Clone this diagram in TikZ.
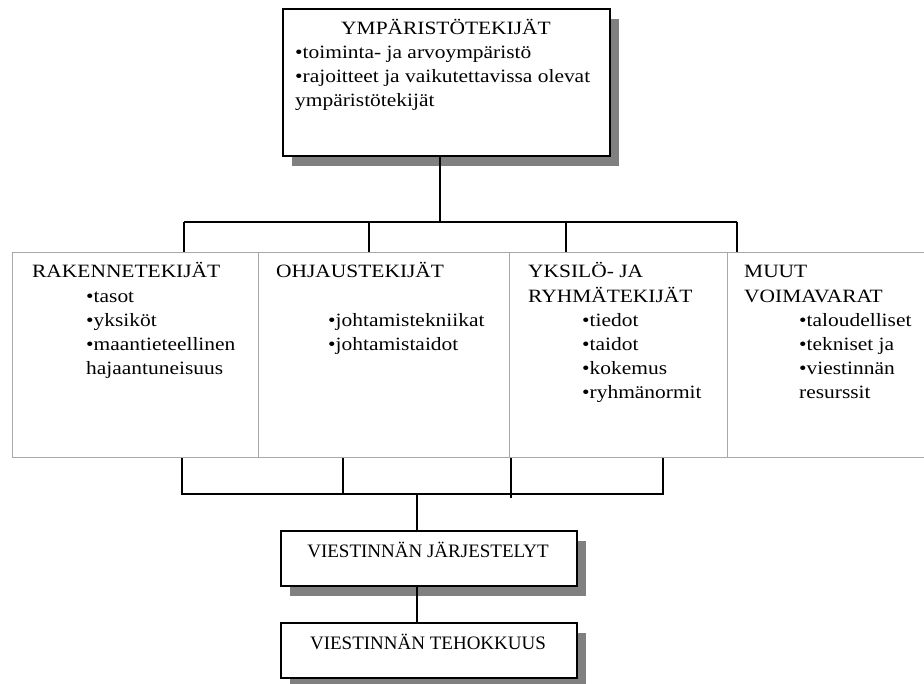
\documentclass[tikz,border=0pt]{standalone}
\usepackage{fontspec}
\setmainfont{Liberation Serif}
\newfontfamily\widefont[FakeStretch=1.14]{Liberation Serif}
\usetikzlibrary{shadows}
\definecolor{cellgray}{HTML}{A8A8A8}
\definecolor{shadowgray}{HTML}{808080}
\tikzset{
  box/.style={draw=black, line width=1.2pt, fill=white, inner sep=0pt,
    drop shadow={shadow xshift=9pt, shadow yshift=-10pt, fill=shadowgray, opacity=1}},
  cell/.style={draw=cellgray, line width=1pt, inner sep=0pt},
  txt/.style={anchor=base west, inner sep=0pt, font=\widefont\fontsize{18.8}{24}\selectfont},
  ctxt/.style={anchor=base, inner sep=0pt, font=\widefont\fontsize{18.8}{24}\selectfont},
  btxt/.style={anchor=base, inner sep=0pt, font=\fontsize{19}{24}\selectfont},
  wire/.style={draw=black, line width=1.3pt}
}
\begin{document}
\begin{tikzpicture}[x=1pt,y=-1pt]
\useasboundingbox (0,0) rectangle (924,684);

% top box: environment factors
\node[box, minimum width=327pt, minimum height=147pt] (env) at (446.5,82.5) {};
\node[ctxt] (envt) at (446,35) {YMPÄRISTÖTEKIJÄT};
\node[txt] (env1) at (295,59) {•toiminta- ja arvoympäristö};
\node[txt] (env2) at (295,83) {•rajoitteet ja vaikutettavissa olevat};
\node[txt] (env3) at (295,107) {ympäristötekijät};

% row of four factor cells (the last one runs past the right edge of the page)
\node[cell, minimum width=246pt, minimum height=205pt] (c1) at (135,355.5) {};
\node[cell, minimum width=251pt, minimum height=205pt] (c2) at (383.5,355.5) {};
\node[cell, minimum width=218pt, minimum height=205pt] (c3) at (618,355.5) {};
\node[cell, minimum width=203pt, minimum height=205pt] (c4) at (828.5,355.5) {};

\node[txt] (c1h) at (32,278) {RAKENNETEKIJÄT};
\node[txt] (c1a) at (86,303) {•tasot};
\node[txt] (c1b) at (86,327) {•yksiköt};
\node[txt] (c1c) at (86,351) {•maantieteellinen};
\node[txt] (c1d) at (86,375) {hajaantuneisuus};

\node[txt] (c2h) at (276,278) {OHJAUSTEKIJÄT};
\node[txt] (c2a) at (328,327) {•johtamistekniikat};
\node[txt] (c2b) at (328,351) {•johtamistaidot};

\node[txt] (c3h) at (528,278) {YKSILÖ- JA};
\node[txt] (c3i) at (528,303) {RYHMÄTEKIJÄT};
\node[txt] (c3a) at (582,327) {•tiedot};
\node[txt] (c3b) at (582,351) {•taidot};
\node[txt] (c3c) at (582,375) {•kokemus};
\node[txt] (c3d) at (582,399) {•ryhmänormit};

\node[txt] (c4h) at (744,278) {MUUT};
\node[txt] (c4i) at (744,303) {VOIMAVARAT};
\node[txt] (c4a) at (799,327) {•taloudelliset};
\node[txt] (c4b) at (799,351) {•tekniset ja};
\node[txt] (c4c) at (799,375) {•viestinnän};
\node[txt] (c4d) at (799,399) {resurssit};

% bottom boxes
\node[box, minimum width=296pt, minimum height=55pt] (arr) at (429,558.5) {};
\node[btxt] (arrt) at (428,557) {VIESTINNÄN JÄRJESTELYT};
\node[box, minimum width=296pt, minimum height=55pt] (eff) at (429,650.5) {};
\node[btxt] (efft) at (428,649) {VIESTINNÄN TEHOKKUUS};

% upper bus
\coordinate (tm) at (440,222);
\coordinate (ta) at (184,222);
\coordinate (tb) at (369,222);
\coordinate (tc) at (566,222);
\coordinate (td) at (737,222);
\draw[wire] (tm |- env.south) -- (tm);
\draw[wire] (ta) -- (td);
\draw[wire] (ta) -- (ta |- c1.north);
\draw[wire] (tb) -- (tb |- c1.north);
\draw[wire] (tc) -- (tc |- c1.north);
\draw[wire] (td) -- (td |- c1.north);

% lower bus
\coordinate (ba) at (182,494);
\coordinate (bb) at (343,494);
\coordinate (bc) at (511,494);
\coordinate (bc2) at (511,498);
\coordinate (bd) at (663,494);
\coordinate (bm) at (417,494);
\draw[wire] (ba |- c1.south) -- (ba) -- (bd) -- (bd |- c1.south);
\draw[wire] (bb |- c1.south) -- (bb);
\draw[wire] (bc |- c1.south) -- (bc2);
\draw[wire] (bm) -- (bm |- arr.north);
\draw[wire] (bm |- arr.south) -- (bm |- eff.north);
\end{tikzpicture}
\end{document}
